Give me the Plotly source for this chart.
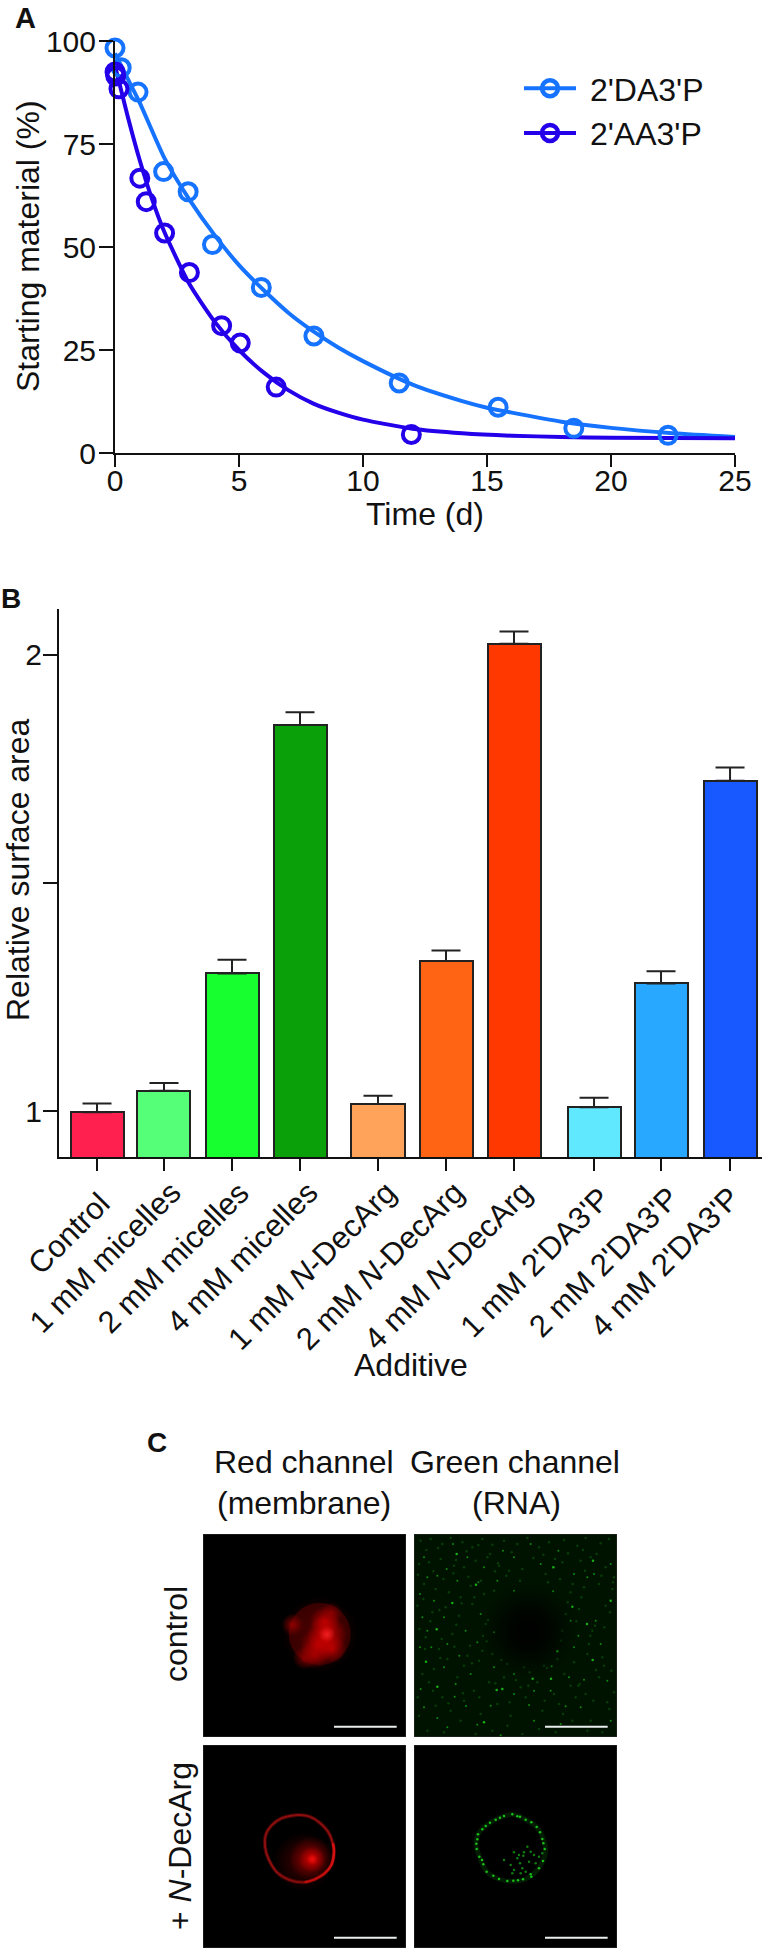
import plotly.graph_objects as go

W, H = 765, 1950
FONT = "Liberation Sans, Arial, sans-serif"
FS = 30
LABEL_FS = 32

# ---------- Panel A data ----------
da_t = [0, 0.25, 0.93, 1.96, 2.95, 3.93, 5.9, 8.02, 11.46, 15.45, 18.5, 22.3]
da_y = [98.3, 93.5, 87.6, 68.3, 63.4, 50.6, 40.2, 28.4, 17, 11.1, 6, 4.3]
aa_t = [-0.05, -0.02, 0, 0.03, 0.16, 1, 1.26, 2, 3, 4.3, 5.05, 6.5, 11.95]
aa_y = [94.5, 93.5, 92.5, 91.5, 88.4, 66.7, 61, 53.4, 43.8, 30.9, 26.7, 16, 4.5]
da_fit_t = [0, 0.5, 1, 2, 3, 4, 5, 6, 7, 8, 9, 10, 12, 14, 15, 16, 18, 20, 22.5, 25]
da_fit_y = [97, 91, 85, 71.5, 61.5, 53, 45.6, 39.5, 34, 29.5, 25.6, 22.3, 16.6, 12.6, 11, 9.8, 7.6, 6.1, 4.8, 3.9]
aa_fit_t = [0, 0.5, 1, 1.5, 2, 3, 4, 5, 6, 7, 8, 9, 10, 12, 14, 16, 18, 20, 25]
aa_fit_y = [94, 82, 71, 61.5, 53.5, 41, 32, 25, 19.5, 15.2, 12, 9.8, 8.1, 5.9, 4.8, 4.2, 3.9, 3.7, 3.6]
a_xticks = [0, 5, 10, 15, 20, 25]
a_yticks = [0, 25, 50, 75, 100]
DA_COLOR = "#1673ff"
AA_COLOR = "#2400ea"

# ---------- Panel B data ----------
b_labels = ["Control", "1 mM micelles", "2 mM micelles", "4 mM micelles",
            "1 mM <i>N</i>-DecArg", "2 mM <i>N</i>-DecArg", "4 mM <i>N</i>-DecArg",
            "1 mM 2'DA3'P", "2 mM 2'DA3'P", "4 mM 2'DA3'P"]
b_slots = [0, 0.985, 1.985, 2.985, 4.132, 5.132, 6.132, 7.309, 8.294, 9.309]
b_vals = [0.998, 1.045, 1.302, 1.846, 1.016, 1.329, 2.024, 1.009, 1.28, 1.724]
b_errs = [0.019, 0.017, 0.030, 0.028, 0.018, 0.023, 0.027, 0.021, 0.027, 0.029]
b_colors = ["#ff2050", "#55ff77", "#18ff30", "#0aa00a", "#ffa35a", "#ff6314",
            "#ff3800", "#60e8ff", "#28a8ff", "#1858ff"]
b_label_dx = [22.5, 26, 26.5, 27, 28, 28, 28, 25.5, 27, 19]
b_label_top = [1183, 1172, 1172, 1172, 1172, 1172, 1172, 1178, 1178, 1178]

# ---------- Panel C marks (0..609 panel units) ----------
red1_flat_x = [350]
red1_flat_y = [300]
red1_flat_s = [62]
red1_flat_c = ["#480000"]
red1_x = [350, 345, 268, 372, 372, 365, 388, 335, 305, 385]
red1_y = [300, 335, 272, 302, 300, 262, 345, 360, 372, 238]
red1_s = [76, 36, 22, 40, 17, 30, 28, 30, 24, 22]
red1_c = ["90,0,0", "215,0,0", "180,0,0", "255,0,0", "255,50,50",
          "225,0,0", "215,0,0", "190,0,0", "160,0,0", "160,0,0"]

ring_x = [290, 320, 350, 375, 388, 393, 385, 365, 335, 300, 260, 225, 198, 186, 188, 205, 235, 265, 290]
ring_y = [210, 215, 233, 260, 290, 320, 360, 385, 403, 412, 405, 385, 345, 305, 270, 242, 220, 212, 210]
arc_x = [390, 393, 385, 365, 335, 305]
arc_y = [295, 320, 360, 385, 403, 412]
red2_x = [300, 325, 328, 328]
red2_y = [350, 340, 343, 343]
red2_s = [60, 44, 26, 11]
red2_c = ["90,0,0", "190,0,0", "235,0,0", "255,20,20"]

top_x = [356, 411, 519, 68, 186, 115, 128, 36, 248, 70, 210, 418, 475, 430, 536, 265, 590, 537]
top_y = [434, 434, 270, 286, 152, 207, 60, 383, 468, 458, 565, 100, 218, 352, 378, 465, 200, 80]
speck_x = [117, 267, 40, 18, 156, 122, 70, 260, 193,
           417, 493, 510, 413, 465, 345, 410, 455, 540, 433, 98, 70, 190,
           155, 136, 52, 18, 545, 580, 590, 500, 300, 230, 190, 125, 20, 30, 100, 360, 440, 300, 350, 210,
           160, 30, 60, 25, 100, 90, 170, 240, 300, 360, 520, 560, 480, 380, 250, 300, 130, 40, 90, 200,
           240, 470, 480, 590]
speck_y = [30, 50, 290, 340, 516, 488, 552, 604, 145,
           172, 305, 437, 397, 430, 513, 470, 517, 120, 50, 105, 125, 325,
           290, 365, 340, 180, 260, 440, 560, 520, 480, 515, 572, 450, 465, 520, 580, 560, 570, 70, 30, 100,
           70, 70, 200, 250, 330, 400, 420, 400, 420, 470, 130, 330, 120, 90, 140, 170, 140, 130, 250, 240,
           295, 260, 340, 90]
dim_x = [20, 50, 85, 110, 145, 175, 205, 235, 270, 310, 340, 375, 405, 450, 490, 515, 560, 585, 15, 45,
         80, 120, 150, 185, 220, 255, 285, 325, 395, 445, 500, 530, 575, 600, 30, 65, 105, 140, 170, 210,
         240, 470, 510, 555, 595, 10, 55, 95, 135, 175, 215, 455, 495, 535, 575, 35, 75, 115, 160, 205,
         445, 525, 565, 25, 60, 100, 150, 195, 235, 280, 330, 390, 430, 480, 520, 570, 45, 85, 130, 180,
         225, 270, 320, 370, 420, 470, 515, 555, 600, 15, 65, 110, 150, 200, 250, 290, 335, 385, 435, 485,
         530, 580, 40, 90, 140, 185, 235, 280, 325, 375, 425, 475, 520, 565,
         37, 72, 126, 158, 193, 228, 252, 293, 358, 388, 423, 462, 507, 548, 12, 58, 88, 118, 163, 201,
         243, 277, 318, 402, 438, 476, 513, 562, 597, 28, 76, 143, 181, 222, 461, 502, 543, 588, 16, 49,
         83, 127, 168, 207, 441, 487, 529, 571, 33, 79, 121, 174, 218, 262, 306, 347, 399, 451, 497, 546,
         592, 11, 57, 103, 147, 196, 244, 287, 343, 392, 447, 493, 538, 586]
dim_y = [20, 15, 30, 12, 25, 40, 15, 32, 20, 30, 12, 40, 25, 18, 35, 12, 28, 15, 90, 85,
         75, 95, 100, 80, 70, 95, 110, 105, 120, 85, 80, 70, 100, 130, 150, 165, 175, 190, 155, 180,
         170, 175, 160, 150, 165, 215, 235, 220, 245, 210, 270, 240, 225, 290, 215, 310, 345, 300, 365, 350,
         290, 330, 370, 420, 405, 375, 395, 380, 360, 390, 400, 395, 375, 385, 360, 395, 445, 490, 430, 470,
         445, 430, 460, 445, 480, 455, 480, 430, 475, 545, 515, 530, 500, 540, 510, 545, 490, 530, 510, 490,
         560, 505, 590, 595, 560, 600, 590, 575, 600, 585, 595, 560, 590, 595,
         48, 42, 78, 52, 33, 60, 88, 55, 72, 62, 75, 58, 48, 60, 122, 112, 135, 118, 128, 140,
         112, 125, 140, 145, 135, 150, 110, 125, 145, 195, 228, 208, 190, 258, 205, 190, 275, 235, 285, 262,
         315, 272, 335, 305, 320, 262, 305, 280, 345, 372, 338, 388, 322, 378, 438, 415, 402, 420, 450, 408,
         410, 490, 470, 508, 478, 490, 448, 505, 455, 500, 540, 455, 500, 525]

gring_x = [295, 270, 258, 245, 228, 215, 205, 192, 190, 187, 188, 196, 204, 208, 218, 238, 255, 280, 298, 312,
           327, 350, 352, 375, 387, 392, 388, 385, 378, 368, 352, 335, 318, 310]
gring_y = [208, 213, 218, 224, 233, 243, 253, 268, 283, 296, 312, 335, 345, 358, 380, 392, 402, 408, 407, 406,
           403, 388, 395, 370, 348, 312, 295, 282, 262, 246, 232, 224, 215, 214]
ghalo_x = [295, 335, 368, 388, 395, 387, 352, 312, 255, 218, 196, 186, 192, 215, 258, 295]
ghalo_y = [208, 224, 246, 282, 315, 348, 392, 408, 402, 380, 335, 296, 268, 243, 218, 208]
ginner_x = [328, 315, 330, 345, 318, 300, 360, 340, 290, 300, 325, 350, 375, 385, 365, 310, 295, 320, 335, 270]
ginner_y = [332, 330, 322, 350, 355, 322, 330, 305, 360, 375, 370, 320, 335, 325, 355, 340, 385, 385, 380, 345]

# ---------- Layout in pixels ----------
def fx(p): return p / W
def fy(p): return 1 - p / H

fig = go.Figure()

# Panel A
fig.add_trace(go.Scatter(x=da_fit_t, y=da_fit_y, mode="lines", showlegend=False, xaxis="x", yaxis="y", cliponaxis=False,
                         line=dict(color=DA_COLOR, width=4, shape="spline", smoothing=0.6)))
fig.add_trace(go.Scatter(x=aa_fit_t, y=aa_fit_y, mode="lines", showlegend=False, xaxis="x", yaxis="y", cliponaxis=False,
                         line=dict(color=AA_COLOR, width=4, shape="spline", smoothing=0.6)))
fig.add_trace(go.Scatter(x=da_t, y=da_y, mode="markers", showlegend=False, xaxis="x", yaxis="y", cliponaxis=False,
                         marker=dict(size=17, color="rgba(0,0,0,0)", line=dict(color=DA_COLOR, width=4))))
fig.add_trace(go.Scatter(x=aa_t, y=aa_y, mode="markers", showlegend=False, xaxis="x", yaxis="y", cliponaxis=False,
                         marker=dict(size=17, color="rgba(0,0,0,0)", line=dict(color=AA_COLOR, width=4))))
for name, col in (("\u00a02'DA3'P", DA_COLOR), ("\u00a02'AA3'P", AA_COLOR)):
    fig.add_trace(go.Scatter(x=[None], y=[None], name=name, mode="lines+markers", xaxis="x", yaxis="y", legendgroup=name,
                             line=dict(color=col, width=4),
                             marker=dict(size=16, color="rgba(0,0,0,0)", line=dict(color=col, width=4.5))))

# Panel B
fig.add_trace(go.Bar(x=b_slots, y=b_vals, width=53 / 68, xaxis="x2", yaxis="y2", showlegend=False,
                     marker=dict(color=b_colors, line=dict(color="#222222", width=2)),
                     error_y=dict(type="data", symmetric=False, array=b_errs, arrayminus=[0] * len(b_errs),
                                  color="#222222", thickness=2, width=14.5)))

# Panel C
panels = [("x3", "y3", 203, 1534), ("x4", "y4", 414, 1534), ("x5", "y5", 203, 1745), ("x6", "y6", 414, 1745)]
shapes = []
for xa, ya, _, _ in panels:
    shapes.append(dict(type="rect", xref=xa, yref=ya, x0=0, x1=609, y0=0, y1=609, layer="below",
                       fillcolor="#000000", line=dict(color="#333333", width=1)))
    shapes.append(dict(type="line", xref=xa, yref=ya, x0=393, x1=581, y0=578, y1=578, layer="above",
                       line=dict(color="#e8eeee", width=2)))
shapes[2]["fillcolor"] = "#001300"


def glow(xs, ys, sizes, cols, xa, ya):
    # plotly's radial gradient: gradient.color is the centre, marker.color the rim
    return go.Scatter(x=xs, y=ys, mode="markers", xaxis=xa, yaxis=ya, showlegend=False,
                      marker=dict(size=sizes, color=[f"rgba({c},0)" for c in cols], line=dict(width=0),
                                  gradient=dict(type="radial", color=[f"rgba({c},1)" for c in cols])))


def dots(xs, ys, size, col, xa, ya):
    return go.Scatter(x=xs, y=ys, mode="markers", xaxis=xa, yaxis=ya, showlegend=False,
                      marker=dict(size=size, color=col, line=dict(width=0)))


def curve(xs, ys, width, col, xa, ya):
    return go.Scatter(x=xs, y=ys, mode="lines", xaxis=xa, yaxis=ya, showlegend=False,
                      line=dict(color=col, width=width, shape="spline"))


fig.add_trace(dots(red1_flat_x, red1_flat_y, red1_flat_s, red1_flat_c[0], "x3", "y3"))
fig.add_trace(glow(red1_x, red1_y, red1_s, red1_c, "x3", "y3"))
fig.add_trace(dots(dim_x, dim_y, 2.5, "#083c08", "x4", "y4"))
fig.add_trace(dots(speck_x, speck_y, 2, "#0e8a0e", "x4", "y4"))
fig.add_trace(dots(top_x, top_y, 2.5, "#16b016", "x4", "y4"))
fig.add_trace(glow([345, 345, 345], [290, 290, 290], [105, 85, 65], ["0,0,0", "0,0,0", "0,0,0"], "x4", "y4"))
fig.add_trace(curve(ring_x, ring_y, 4, "#3a0404", "x5", "y5"))
fig.add_trace(curve(ring_x, ring_y, 2, "#8c0e0e", "x5", "y5"))
fig.add_trace(curve(arc_x, arc_y, 2.5, "#d41010", "x5", "y5"))
fig.add_trace(glow(red2_x, red2_y, red2_s, red2_c, "x5", "y5"))
fig.add_trace(curve(ghalo_x, ghalo_y, 5, "#031a03", "x6", "y6"))
fig.add_trace(dots(gring_x, gring_y, 2.5, "#18c018", "x6", "y6"))
fig.add_trace(dots(ginner_x, ginner_y, 2.5, "#107c10", "x6", "y6"))

layout_axes = {}
for xa, ya, px, py in panels:
    xk = "xaxis" + xa[1:]
    yk = "yaxis" + ya[1:]
    layout_axes[xk] = dict(domain=[fx(px), fx(px + 203)], range=[0, 609], visible=False, anchor=ya, fixedrange=True)
    layout_axes[yk] = dict(domain=[fy(py + 203), fy(py)], range=[609, 0], visible=False, anchor=xa, fixedrange=True)


def axis(size=FS, ticklen=12, **kw):
    return dict(showgrid=False, zeroline=False, showline=True, linecolor="#111111", linewidth=2,
                ticks="outside", ticklen=ticklen, tickwidth=2, tickcolor="#111111",
                tickfont=dict(family=FONT, size=size, color="#111111"), **kw)


def note(text, px, py, size=LABEL_FS, angle=0, bold=False):
    return dict(text=f"<b>{text}</b>" if bold else text, x=fx(px), y=fy(py), xref="paper", yref="paper",
                xanchor="center", yanchor="middle", showarrow=False, textangle=angle,
                font=dict(family=FONT, size=size, color="#111111"))


notes = [
    note("A", 25, 18, 29, bold=True), note("B", 11, 598, 28, bold=True), note("C", 157, 1442, 28, bold=True),
    note("Starting material (%)", 28, 246, angle=-90),
    note("Time (d)", 425, 514),
    note("Relative surface area", 18, 870, angle=-90),
    note("Additive", 411, 1365),
    note("Red channel", 304, 1462), note("(membrane)", 304, 1503),
    note("Green channel", 515, 1462), note("(RNA)", 516, 1503),
    note("control", 176, 1634, angle=-90),
    note("+ <i>N</i>-DecArg", 180, 1846, angle=-90),
]
for slot, label, dx, top in zip(b_slots, b_labels, b_label_dx, b_label_top):
    notes.append(dict(text=label, x=slot, xref="x2", xshift=dx, y=fy(top), yref="paper",
                      xanchor="right", yanchor="top", showarrow=False, textangle=-45,
                      font=dict(family=FONT, size=31, color="#111111")))

fig.update_layout(
    width=W, height=H, margin=dict(l=0, r=0, t=0, b=0, pad=0, autoexpand=False),
    paper_bgcolor="white", plot_bgcolor="rgba(0,0,0,0)", hovermode=False,
    bargap=0, shapes=shapes, annotations=notes,
    legend=dict(x=fx(519), y=fy(61), xanchor="left", yanchor="top", bgcolor="rgba(0,0,0,0)", itemwidth=52,
                tracegroupgap=0, font=dict(family=FONT, size=32, color="#111111"), itemclick=False, itemdoubleclick=False),
    xaxis=axis(domain=[fx(115), fx(735)], range=[0, 25], tickvals=a_xticks, anchor="y", ticklabelstandoff=-12),
    yaxis=axis(ticklen=14, domain=[fy(453), fy(41)], range=[0, 100], tickvals=a_yticks, anchor="x", ticklabelstandoff=-3),
    xaxis2=axis(domain=[fx(59), fx(762)], range=[-0.559, 9.779], tickvals=b_slots, showticklabels=False, anchor="y2"),
    yaxis2=axis(ticklen=14, domain=[fy(1157), fy(609)], range=[0.9, 2.1], tickvals=[1, 1.5, 2], ticktext=["1", "", "2"],
                anchor="x2", ticklabelstandoff=-5),
    **layout_axes,
)

fig.write_html("out.html", config={"displayModeBar": False}, post_script="document.body.style.margin='0';")
